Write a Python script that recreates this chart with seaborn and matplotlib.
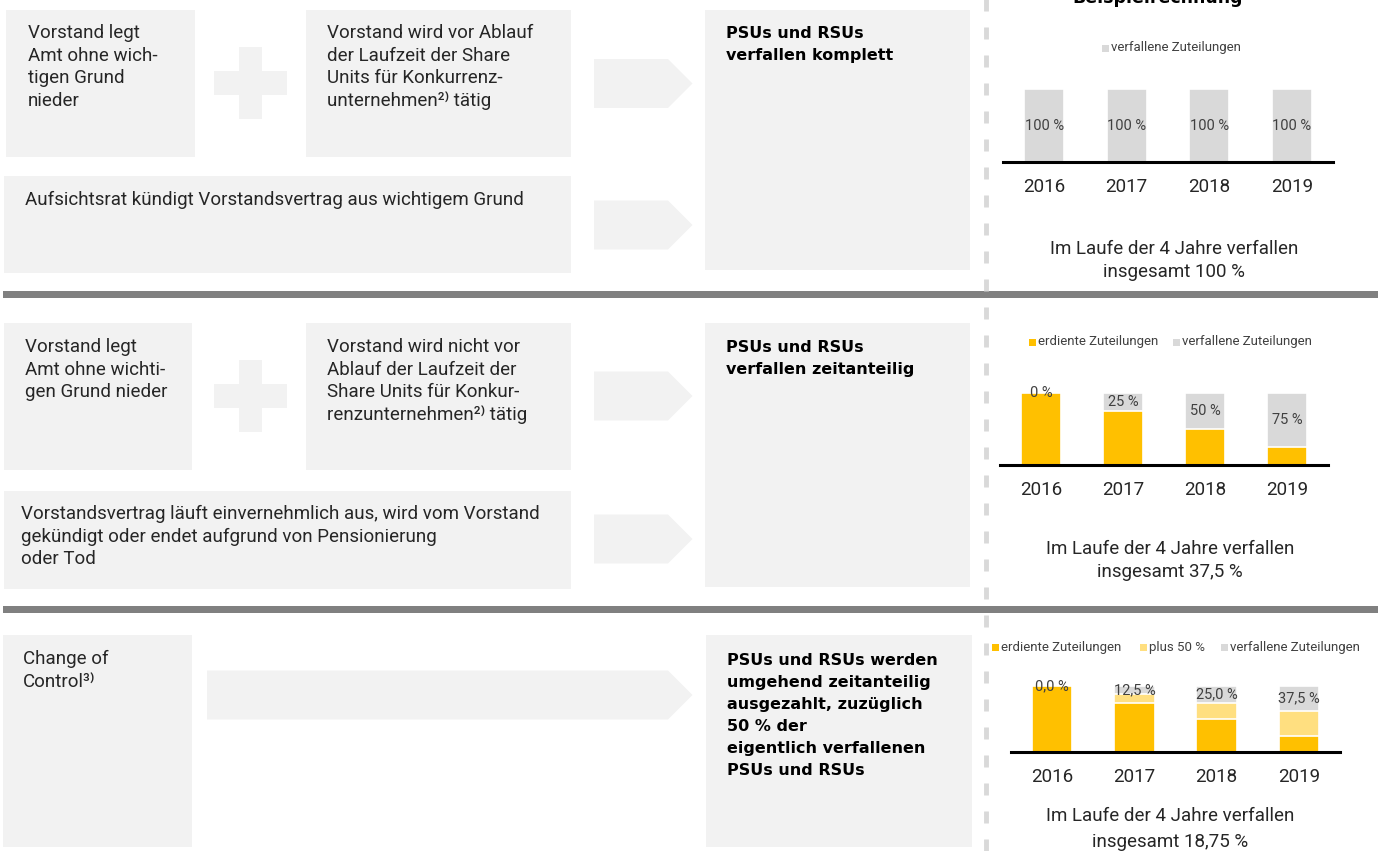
import matplotlib
matplotlib.use("Agg")
import matplotlib.pyplot as plt
from matplotlib.patches import Rectangle, Polygon
import seaborn as sns

# ---------------- data ----------------
years = ["2016", "2017", "2018", "2019"]

c1_forfeited = [100, 100, 100, 100]
c1_labels = ["100 %", "100 %", "100 %", "100 %"]

c2_earned = [100, 75, 50, 25]
c2_forfeited = [0, 25, 50, 75]
c2_labels = ["0 %", "25 %", "50 %", "75 %"]

c3_earned = [100, 75, 50, 25]
c3_plus50 = [0, 12.5, 25, 37.5]
c3_forfeited = [0, 12.5, 25, 37.5]
c3_labels = ["0,0 %", "12,5 %", "25,0 %", "37,5 %"]

legend1 = ["verfallene Zuteilungen"]
legend2 = ["erdiente Zuteilungen", "verfallene Zuteilungen"]
legend3 = ["erdiente Zuteilungen", "plus 50 %", "verfallene Zuteilungen"]

summary1 = ["Im Laufe der 4 Jahre verfallen", "insgesamt 100 %"]
summary2 = ["Im Laufe der 4 Jahre verfallen", "insgesamt 37,5 %"]
summary3 = ["Im Laufe der 4 Jahre verfallen", "insgesamt 18,75 %"]

title = "Beispielrechnung"

s1_a = ["Vorstand legt", "Amt ohne wich-", "tigen Grund", "nieder"]
s1_b = ["Vorstand wird vor Ablauf", "der Laufzeit der Share", "Units für Konkurrenz-",
        "unternehmen²⁾ tätig"]
s1_c = ["Aufsichtsrat kündigt Vorstandsvertrag aus wichtigem Grund"]
s1_r = ["PSUs und RSUs", "verfallen komplett"]

s2_a = ["Vorstand legt", "Amt ohne wichti-", "gen Grund nieder"]
s2_b = ["Vorstand wird nicht vor", "Ablauf der Laufzeit der", "Share Units für Konkur-",
        "renzunternehmen²⁾ tätig"]
s2_c = ["Vorstandsvertrag läuft einvernehmlich aus, wird vom Vorstand",
        "gekündigt oder endet aufgrund von Pensionierung", "oder Tod"]
s2_r = ["PSUs und RSUs", "verfallen zeitanteilig"]

s3_a = ["Change of", "Control³⁾"]
s3_r = ["PSUs und RSUs werden", "umgehend zeitanteilig", "ausgezahlt, zuzüglich",
        "50 % der", "eigentlich verfallenen", "PSUs und RSUs"]

# ---------------- style ----------------
sns.set_theme(style="white")
plt.rcParams['font.family'] = ['Roboto', 'DejaVu Sans']
plt.rcParams['lines.scale_dashes'] = False

ORANGE = "#FFC000"
YELLOW = "#FFDF80"
GREY = "#D9D9D9"
BOX = "#F2F2F2"
SEP = "#808080"
TXT = "#262626"
LBL = "#404040"
MAIN_FS = 13.5
BOLD_FAM = ['DejaVu Sans']
BOLD_FS = 11.5

W, H = 1381, 851
fig = plt.figure(figsize=(W / 100, H / 100), dpi=100)
bg = fig.add_axes([0, 0, 1, 1])
bg.set_xlim(0, W)
bg.set_ylim(H, 0)
bg.axis('off')


def box(x0, y0, x1, y1):
    bg.add_patch(Rectangle((x0, y0), x1 - x0, y1 - y0, facecolor=BOX, edgecolor='none', zorder=1))


def plus(dy):
    bg.add_patch(Rectangle((239, 47 + dy), 23, 72, facecolor=BOX, edgecolor='none', zorder=1))
    bg.add_patch(Rectangle((214, 71 + dy), 73, 24, facecolor=BOX, edgecolor='none', zorder=1))


def arrow(x0, yc, body_end=668, h=49):
    pts = [(x0, yc - h / 2), (body_end, yc - h / 2), (body_end + h / 2, yc),
           (body_end, yc + h / 2), (x0, yc + h / 2)]
    bg.add_patch(Polygon(pts, closed=True, facecolor=BOX, edgecolor='none', zorder=1))


def lines(x, y0, step, items, bold=False, **kw):
    for i, s in enumerate(items):
        if bold:
            bg.text(x, y0 + i * step, s, ha='left', va='baseline', fontsize=BOLD_FS,
                    family=BOLD_FAM, fontweight='bold', color='black', zorder=3, **kw)
        else:
            bg.text(x, y0 + i * step, s, ha='left', va='baseline', fontsize=MAIN_FS,
                    color=TXT, zorder=3, **kw)


def centered_lines(xc, baselines, items):
    for yb, s in zip(baselines, items):
        bg.text(xc, yb, s, ha='center', va='baseline', fontsize=MAIN_FS, color=TXT, zorder=3)


def legend(items, y):
    for (xm, color), s in items:
        bg.add_patch(Rectangle((xm, y - 3.5), 7, 7, facecolor=color, edgecolor='none', zorder=3))
        bg.text(xm + 9, y, s, ha='left', va='center', fontsize=9.5, color=LBL, zorder=3)


# ---------------- section 1 ----------------
box(6, 10, 195, 157)
plus(0)
box(306, 10, 571, 157)
arrow(594, 83.5)
box(4, 176, 571, 273)
arrow(594, 225)
box(705, 10, 970, 270)
lines(28, 38, 22.7, s1_a)
lines(327, 38, 22.7, s1_b)
lines(25, 205, 22.7, s1_c)
lines(726, 38, 22, s1_r, bold=True)

# ---------------- section 2 ----------------
box(4, 323, 192, 470)
plus(313)
box(306, 323, 571, 470)
arrow(594, 396)
box(4, 491, 571, 589)
arrow(594, 539)
box(705, 323, 970, 587)
lines(25, 352, 22.7, s2_a)
lines(327, 352, 22.7, s2_b)
lines(21, 519, 22.5, s2_c)
lines(726, 352, 22, s2_r, bold=True)

# ---------------- section 3 ----------------
box(3, 635, 192, 847)
arrow(207, 695)
box(706, 635, 972, 847)
lines(23, 664, 23, s3_a)
lines(727, 665, 22, s3_r, bold=True)

# separators
bg.add_patch(Rectangle((3, 291), 1375, 7, facecolor=SEP, edgecolor='none', zorder=2))
bg.add_patch(Rectangle((3, 606), 1375, 7, facecolor=SEP, edgecolor='none', zorder=2))

# dashed vertical divider
bg.plot([986.5, 986.5], [-9, 860], color=GREY, lw=3.5, dashes=(12 * 0.72, 16 * 0.72),
        dash_capstyle='butt', zorder=4)

# title (cut at top edge, as in the reference)
bg.text(1158, 3, title, ha='center', va='baseline', fontsize=12.5, family=BOLD_FAM,
        fontweight='bold', color='black', zorder=3)


# ---------------- charts ----------------
def chart_ax(x0, x1, ytop, ybase):
    ax = fig.add_axes([x0 / W, 1 - ybase / H, (x1 - x0) / W, (ybase - ytop) / H])
    return ax


def finish(ax):
    ax.set_xlim(-0.5, 3.5)
    ax.set_ylim(0, 100)
    ax.set_yticks([])
    ax.set_xticks(range(len(years)))
    ax.set_xticklabels(years, fontsize=13.5, color=TXT)
    ax.tick_params(axis='x', length=0, pad=11.5)
    ax.set_xlabel("")
    ax.set_ylabel("")
    for side in ['left', 'right', 'top']:
        ax.spines[side].set_visible(False)
    ax.spines['bottom'].set_color('black')
    ax.spines['bottom'].set_linewidth(2.2)
    ax.patch.set_alpha(0)


def bars(ax, vals, color):
    sns.barplot(x=years, y=vals, order=years, color=color, saturation=1, width=0.49,
                edgecolor='white', linewidth=1.2, ax=ax, errorbar=None)


# chart 1
ax1 = chart_ax(1003, 1333, 89, 162)
bars(ax1, c1_forfeited, GREY)
finish(ax1)
for i, (v, s) in enumerate(zip(c1_forfeited, c1_labels)):
    ax1.text(i, v / 2, s, ha='center', va='center', fontsize=10.5, color=LBL)
legend([((1102, GREY), legend1[0])], 48)
centered_lines(1174, [254, 277], summary1)

# chart 2
ax2 = chart_ax(1000, 1328, 393, 465)
tot2 = [e + f for e, f in zip(c2_earned, c2_forfeited)]
bars(ax2, tot2, GREY)
bars(ax2, c2_earned, ORANGE)
finish(ax2)
for i, (e, f, s) in enumerate(zip(c2_earned, c2_forfeited, c2_labels)):
    ax2.text(i, e + f / 2, s, ha='center', va='center', fontsize=10.5, color=LBL)
legend([((1029, ORANGE), legend2[0]), ((1173, GREY), legend2[1])], 342)
centered_lines(1170, [554, 577], summary2)

# chart 3
ax3 = chart_ax(1011, 1340, 686, 752)
tot3 = [e + p + f for e, p, f in zip(c3_earned, c3_plus50, c3_forfeited)]
ep3 = [e + p for e, p in zip(c3_earned, c3_plus50)]
bars(ax3, tot3, GREY)
bars(ax3, ep3, YELLOW)
bars(ax3, c3_earned, ORANGE)
finish(ax3)
for i, (t, f, s) in enumerate(zip(tot3, c3_forfeited, c3_labels)):
    ax3.text(i, t - f / 2, s, ha='center', va='center', fontsize=10.5, color=LBL)
legend([((992, ORANGE), legend3[0]), ((1140, YELLOW), legend3[1]), ((1221, GREY), legend3[2])], 647)
centered_lines(1170, [821, 847], summary3)

fig.savefig("out.png", dpi=100, facecolor='white')
